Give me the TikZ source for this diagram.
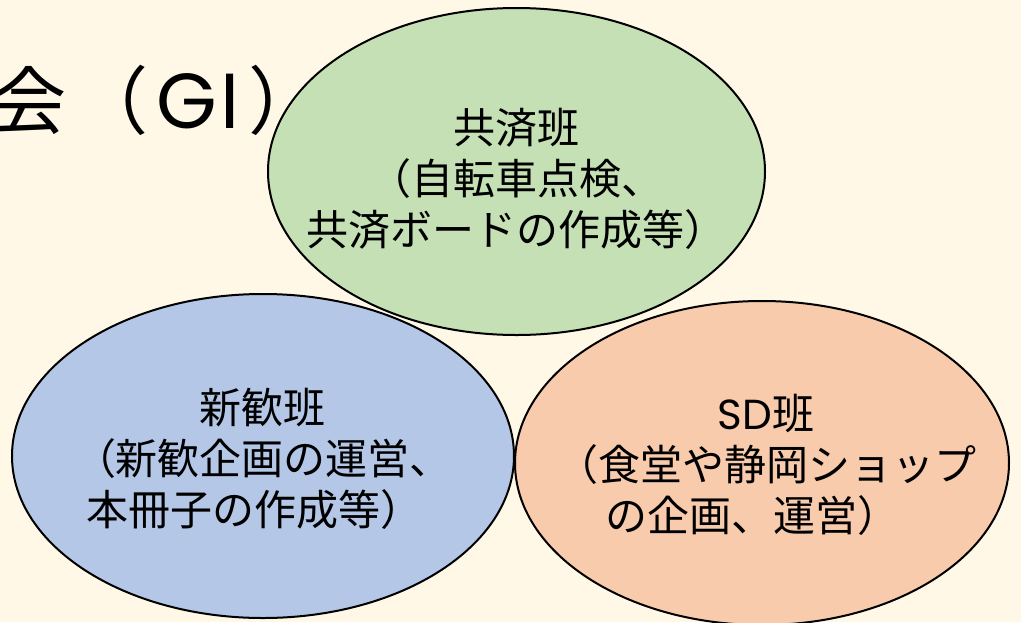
\documentclass[tikz,border=0pt]{standalone}
\usepackage{fontspec}
\setmainfont{Noto Sans CJK JP}
\newfontfamily\pop{Poppins}
\usetikzlibrary{shapes.geometric}
\definecolor{bg}{HTML}{FFF8E7}
\definecolor{grn}{HTML}{C5E0B4}
\definecolor{blu}{HTML}{B4C7E7}
\definecolor{org}{HTML}{F8CBAD}
\tikzset{
  oval/.style={ellipse, draw=black, line width=2pt, inner sep=0pt},
  label/.style={align=center, inner sep=0pt, font=\fontsize{42}{51}\selectfont},
}
\begin{document}
\begin{tikzpicture}[x=1pt,y=-1pt]
\fill[bg] (0,0) rectangle (1021,622);
\useasboundingbox (0,0) rectangle (1021,622);
\node[anchor=base west, inner sep=0pt, font=\fontsize{74}{80}\selectfont] (title) at (-8,128) {会\hspace{8pt}（\hspace{8pt}{\pop\fontsize{78}{80}\selectfont G\hspace{4pt}I}\hspace{8pt}）};
\node[oval, fill=blu, minimum width=502pt, minimum height=324pt] (blue) at (263,456) {};
\node[oval, fill=org, minimum width=494pt, minimum height=324pt] (orange) at (762,463) {};
\node[oval, fill=grn, minimum width=497pt, minimum height=327pt] (green) at (516.5,171.5) {};
\node[label] (tgreen) at (516,179) {共済班\\（自転車点検、\\共済ボードの作成等）};
\node[label] (tblue) at (263,459) {新歓班\\（新歓企画の運営、\\本冊子の作成等）\hspace*{16pt}};
\node[label] (torange) at (766,465) {{\pop\fontsize{42}{51}\selectfont SD}班\\（食堂や静岡ショップ\\の企画、運営）\hspace*{28pt}};
\end{tikzpicture}
\end{document}
